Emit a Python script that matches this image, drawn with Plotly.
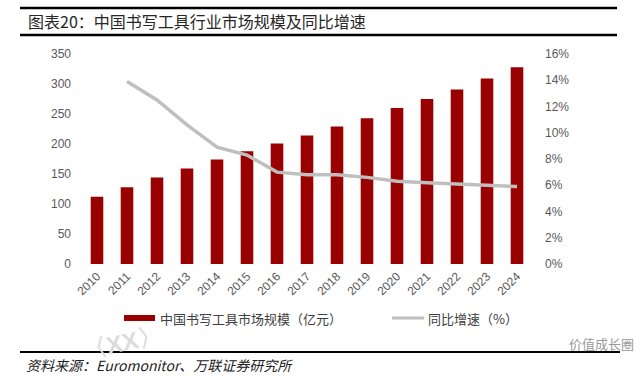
import plotly.graph_objects as go

years = [str(y) for y in range(2010, 2025)]
market_size = [112, 128, 144, 159, 174, 188, 201, 214, 229, 243, 260, 275, 291, 309, 328]
growth_years = [str(y) for y in range(2011, 2025)]
growth_pct = [13.9, 12.5, 10.6, 8.9, 8.3, 7.0, 6.8, 6.8, 6.6, 6.3, 6.2, 6.1, 6.0, 5.9]
left_ticks = [0, 50, 100, 150, 200, 250, 300, 350]
right_ticks = [0, 2, 4, 6, 8, 10, 12, 14, 16]
right_labels = ["0%", "2%", "4%", "6%", "8%", "10%", "12%", "14%", "16%"]

bar_name = "中国书写工具市场规模（亿元）"
line_name = "同比增速（%）"
title_text = "图表20：中国书写工具行业市场规模及同比增速"
source_text = "资料来源：Euromonitor、万联证券研究所"

RED = "#990000"
GRAY = "#BFBFBF"
TICK = "#595959"
CJK = "Noto Sans CJK SC"

W, H = 641, 376
L, R, T, B = 82, 532, 54, 264


def px_x(px):
    return (px - L) / (R - L)


def px_y(py):
    return (B - py) / (B - T)


fig = go.Figure()
fig.add_trace(go.Bar(x=years, y=market_size, marker=dict(color=RED, line=dict(width=0)),
                     name=bar_name, showlegend=False, yaxis="y"))
fig.add_trace(go.Scatter(x=growth_years, y=growth_pct, mode="lines",
                         line=dict(color=GRAY, width=3.5), name=line_name,
                         showlegend=False, yaxis="y2"))

tickfont = dict(family="Liberation Sans, Arial", size=12, color=TICK)

fig.update_layout(
    width=W, height=H, autosize=False,
    margin=dict(l=L, r=W - R, t=T, b=H - B, pad=0),
    paper_bgcolor="white", plot_bgcolor="white",
    bargap=0.58,
    xaxis=dict(type="category", showgrid=False, showline=False, zeroline=False,
               tickangle=-45, tickfont=tickfont, ticks="", ticklabelstandoff=2),
    yaxis=dict(range=[0, 350], tickmode="array", tickvals=left_ticks, showgrid=False,
               zeroline=False, showline=False, tickfont=tickfont, ticks="",
               ticklabelstandoff=10),
    yaxis2=dict(range=[0, 16], tickmode="array", tickvals=right_ticks, ticktext=right_labels,
                overlaying="y", side="right", showgrid=False, zeroline=False, showline=False,
                tickfont=tickfont, ticks="", ticklabelstandoff=12),
)

shapes = []
annotations = []
# faint watermark (drawn first, underneath)
annotations.append(dict(text="<b>〈XX〉</b>", xref="paper", yref="paper", x=px_x(122), y=px_y(342),
                        xanchor="center", yanchor="middle", showarrow=False, textangle=-12,
                        font=dict(family="Liberation Sans", size=24, color="#dcdcdc")))
# title rules
shapes.append(dict(type="line", xref="paper", yref="paper", x0=px_x(20), x1=px_x(617),
                   y0=px_y(8), y1=px_y(8), line=dict(color="black", width=2.5)))
shapes.append(dict(type="line", xref="paper", yref="paper", x0=px_x(20), x1=px_x(617),
                   y0=px_y(35), y1=px_y(35), line=dict(color="black", width=2.5)))
annotations.append(dict(text=title_text, xref="paper", yref="paper", x=px_x(26), y=px_y(21),
                        xanchor="left", yanchor="middle", showarrow=False,
                        font=dict(family=CJK, size=16, color="#262626")))
# legend
shapes.append(dict(type="rect", xref="paper", yref="paper", x0=px_x(124), x1=px_x(155),
                   y0=px_y(321), y1=px_y(315), fillcolor=RED, line=dict(width=0)))
annotations.append(dict(text=bar_name, xref="paper", yref="paper", x=px_x(158), y=px_y(318),
                        xanchor="left", yanchor="middle", showarrow=False,
                        font=dict(family=CJK, size=13, color="#404040")))
shapes.append(dict(type="line", xref="paper", yref="paper", x0=px_x(392), x1=px_x(424),
                   y0=px_y(318), y1=px_y(318), line=dict(color=GRAY, width=3)))
annotations.append(dict(text=line_name, xref="paper", yref="paper", x=px_x(426), y=px_y(318),
                        xanchor="left", yanchor="middle", showarrow=False,
                        font=dict(family=CJK, size=13, color="#404040")))
# source rule + text
shapes.append(dict(type="line", xref="paper", yref="paper", x0=px_x(20), x1=px_x(620),
                   y0=px_y(352), y1=px_y(352), line=dict(color="black", width=2)))
annotations.append(dict(text="<i>" + source_text + "</i>", xref="paper", yref="paper",
                        x=px_x(24), y=px_y(365), xanchor="left", yanchor="middle",
                        showarrow=False, font=dict(family=CJK, size=14, color="#222")))
# wechat watermark
annotations.append(dict(text="价值成长圈", xref="paper", yref="paper", x=px_x(636), y=px_y(343),
                        xanchor="right", yanchor="middle", showarrow=False,
                        font=dict(family=CJK, size=13, color="#9a9a9a")))

fig.update_layout(shapes=shapes, annotations=annotations)
fig.write_html("out.html", config={"displayModeBar": False},
               post_script="document.body.style.margin='0px';")
